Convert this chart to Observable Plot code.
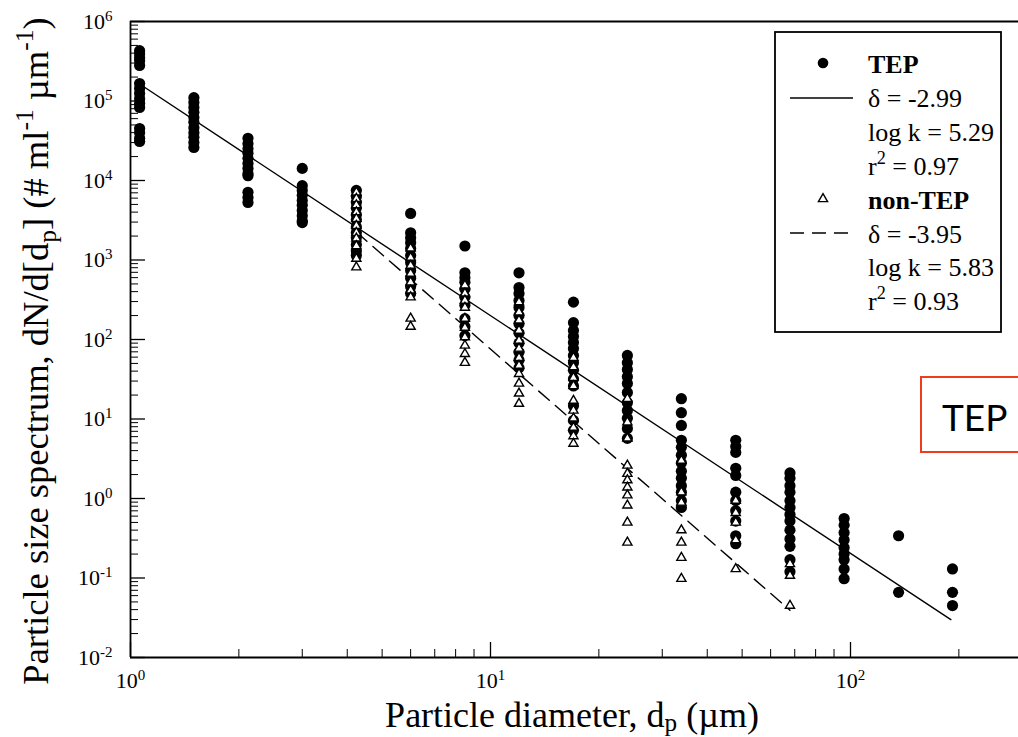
<!DOCTYPE html>
<html>
<head>
<meta charset="utf-8">
<script src="https://cdn.jsdelivr.net/npm/d3@7"></script>
<script src="https://cdn.jsdelivr.net/npm/@observablehq/plot@0.6"></script>
<style>
  html, body { margin: 0; padding: 0; background: #fff; }
  #chart svg { display: block; }
  #chart svg text, #chart svg tspan { font-family: "Liberation Serif", "Times New Roman", serif; }
  #chart svg text.sans { font-family: Lato, "Open Sans", sans-serif; }
</style>
</head>
<body>
<div id="chart"></div>
<script>
// Size-bin centres (µm), a √2 progression
const diameters = [1.06, 1.5, 2.12, 3, 4.24, 6, 8.49, 12, 17, 24, 33.9, 48, 67.9, 96, 136, 192];

// dN/d[dp] (# ml^-1 µm^-1) for TEP, one list per size bin
const tepValues = [
  [4.3e5, 3.9e5, 3.5e5, 3.2e5, 2.8e5, 1.66e5, 1.44e5, 1.24e5, 1.07e5, 9.3e4, 8.3e4, 4.5e4, 4.0e4, 3.4e4, 3.1e4],
  [1.1e5, 9.6e4, 8.3e4, 7.2e4, 6.2e4, 5.4e4, 4.6e4, 4.0e4, 3.5e4, 3.0e4, 2.6e4],
  [3.4e4, 2.9e4, 2.5e4, 2.2e4, 1.9e4, 1.64e4, 1.42e4, 1.22e4, 1.15e4, 7.1e3, 6.1e3, 5.3e3],
  [1.42e4, 8.6e3, 7.5e3, 6.5e3, 5.6e3, 4.9e3, 4.2e3, 3.6e3, 3.1e3, 2.96e3],
  [7.5e3, 6.3e3, 5.3e3, 4.5e3, 3.7e3, 3.2e3, 2.6e3, 2.2e3, 1.9e3, 1.56e3, 1.3e3, 1.14e3],
  [3.85e3, 2.2e3, 1.9e3, 1.65e3, 1.4e3, 1.14e3, 930, 740, 590, 465, 380],
  [1.5e3, 690, 600, 525, 430, 340, 270, 183, 145, 112],
  [690, 450, 380, 310, 252, 200, 158, 121, 90, 69, 55, 44],
  [295, 163, 130, 109, 92, 77, 63, 51, 41, 32, 26, 14.7, 9.6, 7.2],
  [63, 51, 42, 34, 28, 21.5, 16, 12.8, 10.2, 7.6, 5.7],
  [18, 12, 8.3, 5.4, 4.4, 3.5, 2.8, 2.2, 1.8, 1.45, 1.2, 0.94, 0.77],
  [5.4, 4.5, 3.8, 2.4, 1.95, 1.2, 0.94, 0.7, 0.52, 0.34, 0.27],
  [2.1, 1.8, 1.45, 1.2, 0.94, 0.77, 0.63, 0.52, 0.40, 0.31, 0.25, 0.17, 0.12],
  [0.56, 0.46, 0.37, 0.30, 0.24, 0.20, 0.17, 0.13, 0.098],
  [0.34, 0.066],
  [0.13, 0.066, 0.045]
];

// dN/d[dp] for non-TEP particles, one list per size bin
const nonTepValues = [
  [], [], [], [],
  [7.1e3, 5.9e3, 4.9e3, 4.0e3, 3.3e3, 2.7e3, 2.2e3, 1.87e3, 1.5e3, 1.04e3, 810],
  [1.4e3, 1.07e3, 850, 675, 525, 415, 340, 184, 145],
  [480, 380, 310, 252, 183, 141, 107, 84, 66, 51],
  [295, 220, 174, 130, 97, 77, 59, 47, 37, 28, 21, 15.6],
  [59, 45, 33, 26, 17, 12.8, 10.2, 7.8, 6.1, 4.9],
  [18, 9.1, 5.7, 2.6, 2.05, 1.7, 1.38, 1.1, 0.82, 0.50, 0.28],
  [3.0, 1.2, 0.89, 0.40, 0.28, 0.18, 0.098],
  [0.94, 0.66, 0.50, 0.30, 0.13],
  [0.15, 0.107, 0.045],
  [], [], []
];

// Power-law fits: dN/d[dp] = k · dp^δ
const tepFit = {delta: -2.99, logK: 5.29, r2: 0.97, from: 1.06, to: 190};
const nonTepFit = {delta: -3.95, logK: 5.83, r2: 0.93, from: 4.24, to: 67.9};

// Axis ticks
const yExponents = [-2, -1, 0, 1, 2, 3, 4, 5, 6];
const xExponents = [0, 1, 2];

const serif = "Liberation Serif, Times New Roman, serif";
const xMax = Math.pow(10, 888 / 360);
const yMajor = yExponents.map(e => Math.pow(10, e));
const xMajor = xExponents.map(e => Math.pow(10, e));
const yMinor = yExponents.slice(0, -1).flatMap(e => d3.range(2, 10).map(m => m * Math.pow(10, e)));
const xMinor = xExponents.flatMap(e => d3.range(2, 10).map(m => m * Math.pow(10, e))).filter(v => v < xMax);

const tepPoints = diameters.flatMap((d, i) => tepValues[i].map(v => ({d, v})));
const nonTepPoints = diameters.flatMap((d, i) => nonTepValues[i].map(v => ({d, v})));
const fitLine = f => [f.from, f.to].map(d => ({d, v: Math.pow(10, f.logK + f.delta * Math.log10(d))}));

const powerLabel = d => `10^${Math.round(Math.log10(d))}`;

const chart = Plot.plot({
  width: 1018,
  height: 737,
  marginLeft: 130,
  marginRight: 0,
  marginTop: 21,
  marginBottom: 80,
  style: {fontFamily: serif, fontSize: "22px", background: "#fff", color: "#000"},
  x: {type: "log", domain: [1, xMax]},
  y: {type: "log", domain: [1e-2, 1e6]},
  marks: [
    // inward tick marks
    Plot.axisY(yMajor, {anchor: "left", tickSize: -15, tickFormat: () => "", strokeWidth: 1.3, label: null}),
    Plot.axisY(yMinor, {anchor: "left", tickSize: -8, tickFormat: () => "", strokeWidth: 1, label: null}),
    Plot.axisX(xMajor, {anchor: "bottom", tickSize: -15, tickFormat: () => "", strokeWidth: 1.3, label: null}),
    Plot.axisX(xMinor, {anchor: "bottom", tickSize: -8, tickFormat: () => "", strokeWidth: 1, label: null}),
    // tick labels
    Plot.axisY(yMajor, {anchor: "left", tickSize: 0, tickPadding: 18, tickFormat: powerLabel, fontSize: 22, label: null}),
    Plot.axisX(xMajor, {anchor: "bottom", tickSize: 0, tickPadding: 15, tickFormat: powerLabel, fontSize: 22, label: null}),
    // frame lines (left, top, bottom)
    Plot.ruleX([1], {stroke: "#000", strokeWidth: 1.8}),
    Plot.ruleY([1e-2, 1e6], {stroke: "#000", strokeWidth: 1.8}),
    // data
    Plot.dot(tepPoints, {x: "d", y: "v", r: 5.6, fill: "#000", stroke: "none"}),
    Plot.line(fitLine(tepFit), {x: "d", y: "v", stroke: "#000", strokeWidth: 1.4}),
    Plot.line(fitLine(nonTepFit), {x: "d", y: "v", stroke: "#000", strokeWidth: 1.4, strokeDasharray: "14,8"}),
    Plot.dot(nonTepPoints, {x: "d", y: "v", symbol: "triangle", r: 3.4, fill: "#fff", stroke: "#000", strokeWidth: 1.4})
  ]
});

document.getElementById("chart").appendChild(chart);
const svg = d3.select(chart);

// Turn "10^n" tick labels into a base with a raised exponent
svg.selectAll("g[aria-label$='tick label'] text").each(function () {
  const t = this.textContent;
  if (!t.includes("^")) return;
  const [base, exp] = t.split("^");
  const sel = d3.select(this);
  sel.text(null);
  sel.append("tspan").text(base);
  sel.append("tspan").attr("font-size", "15px").attr("dy", "-8").text(exp);
});

// Rich text helper: parts of [text, "sub" | "sup" | undefined]
function richText(sel, parts, size, subShift = 0.28) {
  let shift = 0;
  parts.forEach(([txt, kind]) => {
    const target = kind === "sup" ? -0.42 * size : kind === "sub" ? subShift * size : 0;
    const ts = sel.append("tspan").attr("dy", target - shift).text(txt);
    if (kind) ts.attr("font-size", 0.7 * size);
    shift = target;
  });
}

// Axis titles
const yTitle = svg.append("text")
  .attr("transform", "translate(48,351) rotate(-90)")
  .attr("text-anchor", "middle")
  .attr("font-size", 36.5)
  .attr("fill", "#000");
richText(yTitle, [["Particle size spectrum, dN/d[d"], ["p", "sub"], ["] (# ml"], ["-1", "sup"], [" µm"], ["-1", "sup"], [")"]], 36.5, 0.22);

const xTitle = svg.append("text")
  .attr("x", 572).attr("y", 727)
  .attr("text-anchor", "middle")
  .attr("font-size", 36)
  .attr("fill", "#000");
richText(xTitle, [["Particle diameter, d"], ["p", "sub"], [" (µm)"]], 36, 0.12);

// Legend
const lg = svg.append("g").attr("font-size", 26).attr("fill", "#000").attr("text-anchor", "start");
lg.append("rect").attr("x", 775).attr("y", 32).attr("width", 226).attr("height", 300)
  .attr("fill", "#fff").attr("stroke", "#000").attr("stroke-width", 1.8);
lg.append("circle").attr("cx", 823).attr("cy", 63).attr("r", 5.3).attr("fill", "#000");
lg.append("path").attr("d", d3.symbol(d3.symbolTriangle, Math.PI * 3.4 * 3.4)())
  .attr("transform", "translate(823,199)").attr("fill", "#fff").attr("stroke", "#000").attr("stroke-width", 1.4);
lg.append("line").attr("x1", 790).attr("x2", 853).attr("y1", 98).attr("y2", 98)
  .attr("stroke", "#000").attr("stroke-width", 1.4);
lg.append("line").attr("x1", 790).attr("x2", 853).attr("y1", 233).attr("y2", 233)
  .attr("stroke", "#000").attr("stroke-width", 1.4).attr("stroke-dasharray", "14,8");

const rows = [
  {y: 73, parts: [["TEP"]], bold: true},
  {y: 107, parts: [[`δ = ${tepFit.delta.toFixed(2)}`]]},
  {y: 141, parts: [[`log k = ${tepFit.logK.toFixed(2)}`]]},
  {y: 175, parts: [["r"], ["2", "sup"], [` = ${tepFit.r2.toFixed(2)}`]]},
  {y: 209, parts: [["non-TEP"]], bold: true},
  {y: 243, parts: [[`δ = ${nonTepFit.delta.toFixed(2)}`]]},
  {y: 276, parts: [[`log k = ${nonTepFit.logK.toFixed(2)}`]]},
  {y: 310, parts: [["r"], ["2", "sup"], [` = ${nonTepFit.r2.toFixed(2)}`]]}
];
rows.forEach(row => {
  const t = lg.append("text").attr("x", 868).attr("y", row.y);
  if (row.bold) t.attr("font-weight", "bold");
  richText(t, row.parts, 26);
});

// Boxed "TEP" annotation
const note = svg.append("g").attr("text-anchor", "start");
note.append("rect").attr("x", 921).attr("y", 377).attr("width", 120).attr("height", 75)
  .attr("fill", "#fff").attr("stroke", "#f03c1e").attr("stroke-width", 2);
note.append("text").attr("class", "sans").attr("x", 942).attr("y", 431)
  .attr("font-size", 37).attr("fill", "#000")
  .text("TEP");
</script>
</body>
</html>
